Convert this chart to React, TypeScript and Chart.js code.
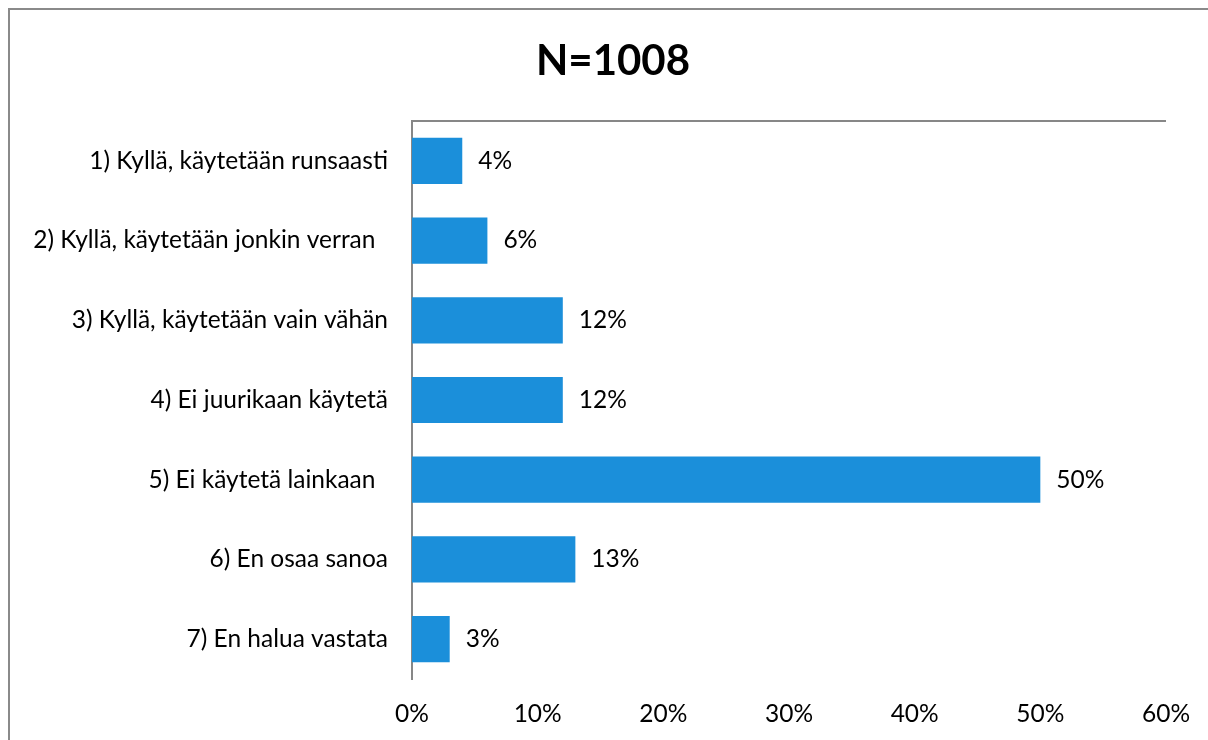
import React, { useEffect, useRef } from "react";
import { Chart, registerables } from "chart.js";

Chart.register(...registerables);

const categories = [
  "1) Kyllä, käytetään runsaasti",
  "2) Kyllä, käytetään jonkin verran  ",
  "3) Kyllä, käytetään vain vähän",
  "4) Ei juurikaan käytetä",
  "5) Ei käytetä lainkaan  ",
  "6) En osaa sanoa",
  "7) En halua vastata",
];
const values = [4, 6, 12, 12, 50, 13, 3];
const titleText = "N=1008";
const xTicks = [0, 10, 20, 30, 40, 50, 60];

const FONT = "Lato, 'Open Sans', sans-serif";
const FONT_SIZE = 24.5;
const AXIS_COLOR = "#878787";
const BAR_COLOR = "#1B8FDA";

export default function App() {
  const ref = useRef<HTMLCanvasElement | null>(null);

  useEffect(() => {
    if (!ref.current) return;
    const decorPlugin = {
      id: "decor",
      afterDraw(chart: any) {
        const { ctx, chartArea } = chart;
        ctx.save();
        ctx.strokeStyle = AXIS_COLOR;
        ctx.lineWidth = 2;
        ctx.beginPath();
        ctx.moveTo(chartArea.left - 1, chartArea.top);
        ctx.lineTo(chartArea.right, chartArea.top);
        ctx.stroke();
        ctx.fillStyle = "#000";
        ctx.font = `bold 42px ${FONT}`;
        ctx.textAlign = "center";
        ctx.textBaseline = "middle";
        ctx.fillText(titleText, 613, 61);
        ctx.font = `${FONT_SIZE}px ${FONT}`;
        ctx.textAlign = "left";
        const meta = chart.getDatasetMeta(0);
        meta.data.forEach((bar: any, i: number) => {
          ctx.fillText(values[i] + "%", bar.x + 16, bar.y);
        });
        ctx.restore();
      },
    };

    const chart = new Chart(ref.current, {
      type: "bar",
      data: {
        labels: categories,
        datasets: [
          {
            data: values,
            backgroundColor: BAR_COLOR,
            borderWidth: 0,
            categoryPercentage: 1,
            barPercentage: 0.58,
          },
        ],
      },
      options: {
        indexAxis: "y",
        animation: false,
        responsive: false,
        maintainAspectRatio: false,
        layout: { padding: { top: 121, right: 42, left: 0, bottom: 0 } },
        plugins: {
          legend: { display: false },
          tooltip: { enabled: false },
          title: { display: false },
        },
        scales: {
          x: {
            min: 0,
            max: 60,
            afterBuildTicks(scale: any) {
              scale.ticks = xTicks.map((v) => ({ value: v }));
            },
            ticks: {
              callback: (v: any) => v + "%",
              font: { family: FONT, size: FONT_SIZE },
              color: "#000",
              padding: 20,
              maxRotation: 0,
            },
            grid: { display: false, drawTicks: false },
            border: { display: false },
            afterFit(scale: any) {
              scale.height = 740 - 679;
              scale.paddingLeft = 0;
              scale.paddingRight = 0;
            },
          },
          y: {
            ticks: {
              font: { family: FONT, size: FONT_SIZE },
              color: "#000",
              padding: 24,
            },
            grid: { display: false, drawTicks: false },
            border: { display: true, color: AXIS_COLOR, width: 2 },
            afterFit(scale: any) {
              scale.width = 412;
            },
          },
        },
      },
      plugins: [decorPlugin],
    } as any);
    return () => chart.destroy();
  }, []);

  return (
    <div
      style={{
        position: "fixed",
        left: 0,
        top: 0,
        width: 1208,
        height: 740,
        overflow: "hidden",
        background: "#fff",
      }}
    >
      <div
        style={{
          position: "absolute",
          left: 8,
          top: 8,
          width: 1400,
          height: 1000,
          borderTop: "2px solid #8a8a8a",
          borderLeft: "2px solid #8a8a8a",
        }}
      />
      <canvas
        ref={ref}
        width={1208}
        height={740}
        style={{ position: "absolute", left: 0, top: 0, width: 1208, height: 740 }}
      />
    </div>
  );
}
